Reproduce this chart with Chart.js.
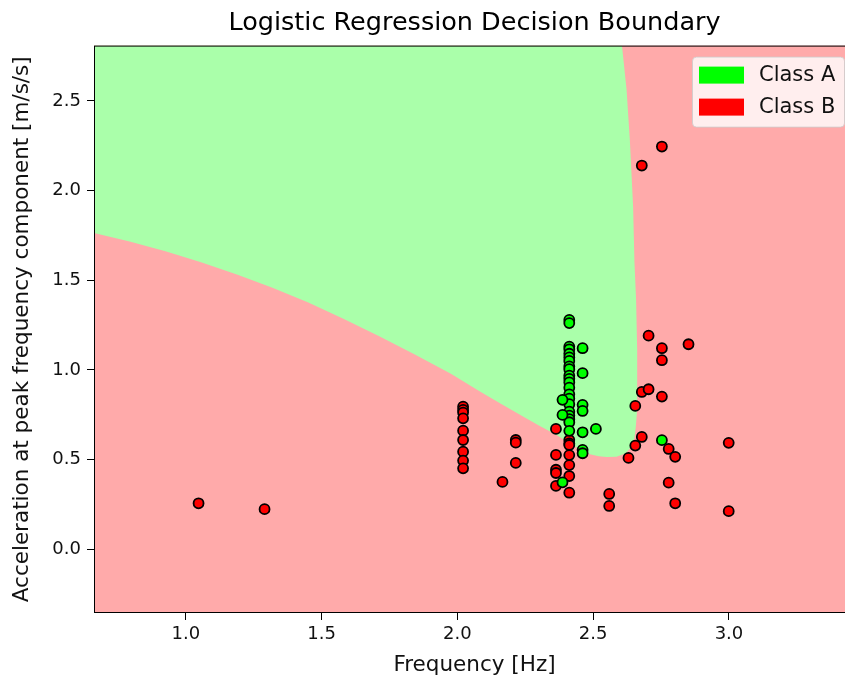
<!DOCTYPE html>
<html>
<head>
<meta charset="utf-8">
<title>Logistic Regression Decision Boundary</title>
<script src="https://cdn.jsdelivr.net/npm/chart.js@4.4.0/dist/chart.umd.min.js"></script>
<style>
  html, body { margin: 0; padding: 0; background: #fff; }
  #frame { width: 845px; height: 681px; overflow: hidden; }
  #chart { display: block; }
</style>
</head>
<body>
<div id="frame"><canvas id="chart" width="855" height="681"></canvas></div>
<script>
// axis limits and ticks
const xMin = 0.662, xMax = 3.464;
const yMin = -0.356, yMax = 2.809;
const xTicks = [1.0, 1.5, 2.0, 2.5, 3.0];
const yTicks = [0.0, 0.5, 1.0, 1.5, 2.0, 2.5];

// Class A samples (frequency, acceleration)
const classAFreq = [
  2.412, 2.412, 2.412, 2.412, 2.412, 2.412, 2.412, 2.412, 2.412, 2.412, 2.412,
  2.412, 2.412, 2.412, 2.412, 2.412, 2.412, 2.412, 2.412, 2.412, 2.412,
  2.461, 2.461, 2.461, 2.461, 2.461, 2.461, 2.461,
  2.510,
  2.387, 2.387, 2.387,
  2.753
];
const classAAccel = [
  1.279, 1.261, 1.130, 1.115, 1.090, 1.070, 1.050, 1.020, 1.004, 0.968, 0.950,
  0.931, 0.901, 0.864, 0.840, 0.809, 0.767, 0.745, 0.725, 0.708, 0.660,
  1.121, 0.982, 0.805, 0.771, 0.652, 0.554, 0.535,
  0.671,
  0.833, 0.749, 0.373,
  0.608
];

// Class B samples (frequency, acceleration)
const classBFreq = [
  1.047, 1.290,
  2.021, 2.021, 2.021, 2.021, 2.021, 2.021, 2.021, 2.021, 2.021,
  2.166,
  2.215, 2.215, 2.215,
  2.363, 2.363, 2.363, 2.363, 2.363,
  2.412, 2.412, 2.412, 2.412, 2.412, 2.412, 2.412,
  2.559, 2.559,
  2.630,
  2.655, 2.655,
  2.679, 2.679, 2.679,
  2.704, 2.704,
  2.753, 2.753, 2.753, 2.753,
  2.778, 2.778,
  2.802, 2.802,
  2.851,
  2.999, 2.999
];
const classBAccel = [
  0.256, 0.223,
  0.795, 0.777, 0.762, 0.730, 0.661, 0.609, 0.544, 0.494, 0.451,
  0.375,
  0.609, 0.594, 0.481,
  0.671, 0.526, 0.443, 0.425, 0.353,
  0.609, 0.590, 0.581, 0.525, 0.469, 0.408, 0.315,
  0.308, 0.241,
  0.509,
  0.799, 0.578,
  2.140, 0.877, 0.626,
  1.191, 0.892,
  2.246, 1.121, 1.054, 0.851,
  0.559, 0.371,
  0.515, 0.256,
  1.143,
  0.593, 0.212
];

// outline of the region predicted as Class A
const boundaryFreq = [
  xMin, 0.662, 0.793, 0.925, 1.056, 1.188, 1.319, 1.451, 1.582, 1.714, 1.845,
  1.976, 2.083, 2.160, 2.240, 2.300, 2.365, 2.410, 2.451, 2.488, 2.520, 2.549,
  2.586, 2.620, 2.641, 2.652, 2.657, 2.661, 2.662, 2.662, 2.658, 2.652, 2.647,
  2.635, 2.623, 2.606
];
const boundaryAccel = [
  yMax, 1.764, 1.716, 1.662, 1.600, 1.532, 1.458, 1.376, 1.284, 1.186, 1.084,
  0.978, 0.880, 0.811, 0.742, 0.690, 0.637, 0.594, 0.556, 0.530, 0.518, 0.514,
  0.516, 0.535, 0.572, 0.620, 0.684, 0.760, 0.833, 1.112, 1.391, 1.600, 1.911,
  2.283, 2.563, yMax
];

const toPoints = (xs, ys) => xs.map((x, i) => ({ x, y: ys[i] }));

const TEXT = '#111';
const FONT = '"DejaVu Sans", sans-serif';

// Class B background for the plot area
const regionBackground = {
  id: 'regionBackground',
  beforeDatasetsDraw(chart) {
    const { ctx, chartArea: a } = chart;
    ctx.save();
    ctx.fillStyle = '#ffaaaa';
    ctx.fillRect(a.left, a.top, a.right - a.left, a.bottom - a.top);
    ctx.restore();
  }
};

// box around the plot
const axesFrame = {
  id: 'axesFrame',
  afterDatasetsDraw(chart) {
    const { ctx, chartArea: a } = chart;
    ctx.save();
    ctx.strokeStyle = '#000';
    ctx.lineWidth = 1;
    ctx.strokeRect(a.left + 0.5, a.top + 0.5, a.right - a.left - 1, a.bottom - a.top - 1);
    ctx.restore();
  }
};

// legend in the upper right corner of the plot
const insetLegend = {
  id: 'insetLegend',
  afterDraw(chart) {
    const { ctx, chartArea: a } = chart;
    const items = chart.data.datasets.filter(d => d.pointRadius > 0);
    const w = 152, h = 70;
    const left = a.right - 11 - w, top = a.top + 11;
    ctx.save();
    ctx.beginPath();
    ctx.roundRect(left + 0.5, top + 0.5, w, h, 4);
    ctx.fillStyle = 'rgba(255,255,255,0.8)';
    ctx.fill();
    ctx.strokeStyle = 'rgba(204,204,204,0.8)';
    ctx.lineWidth = 1;
    ctx.stroke();
    ctx.font = '21px ' + FONT;
    ctx.textBaseline = 'middle';
    items.forEach((d, i) => {
      const cy = top + 18.5 + i * 32;
      ctx.fillStyle = d.pointBackgroundColor;
      ctx.fillRect(left + 7, cy - 8.5, 45, 17);
      ctx.fillStyle = TEXT;
      ctx.fillText(d.label, left + 67, cy);
    });
    ctx.restore();
  }
};

Chart.defaults.font.family = FONT;

new Chart(document.getElementById('chart'), {
  type: 'scatter',
  data: {
    datasets: [
      {
        label: 'Class A',
        data: toPoints(classAFreq, classAAccel),
        pointRadius: 5,
        pointBackgroundColor: '#00ff00',
        pointBorderColor: '#000',
        pointBorderWidth: 1.8,
        order: 1
      },
      {
        label: 'Class B',
        data: toPoints(classBFreq, classBAccel),
        pointRadius: 5,
        pointBackgroundColor: '#ff0000',
        pointBorderColor: '#000',
        pointBorderWidth: 1.8,
        order: 2
      },
      {
        label: 'Class A region',
        data: toPoints(boundaryFreq, boundaryAccel),
        showLine: true,
        fill: 'shape',
        backgroundColor: '#aaffaa',
        borderColor: 'rgba(0,0,0,0)',
        borderWidth: 0,
        pointRadius: 0,
        order: 3
      }
    ]
  },
  options: {
    responsive: false,
    devicePixelRatio: 1,
    animation: false,
    events: [],
    layout: { autoPadding: false, padding: 0 },
    scales: {
      x: {
        type: 'linear',
        min: xMin,
        max: xMax,
        afterBuildTicks: s => { s.ticks = xTicks.map(v => ({ value: v })); },
        afterFit: s => { s.height = 68; },
        ticks: { callback: v => v.toFixed(1), color: TEXT, font: { size: 18 }, padding: 4, maxRotation: 0, autoSkip: false },
        grid: { display: true, drawOnChartArea: false, drawTicks: true, tickLength: 7, color: '#000', lineWidth: 1 },
        border: { display: false },
        title: { display: true, text: 'Frequency [Hz]', color: TEXT, font: { size: 21.5 }, padding: { top: 0, bottom: 3 } }
      },
      y: {
        type: 'linear',
        min: yMin,
        max: yMax,
        afterBuildTicks: s => { s.ticks = yTicks.map(v => ({ value: v })); },
        afterFit: s => { s.width = 94; },
        ticks: { callback: v => v.toFixed(1), color: TEXT, font: { size: 18 }, padding: 6, autoSkip: false },
        grid: { display: true, drawOnChartArea: false, drawTicks: true, tickLength: 7, color: '#000', lineWidth: 1 },
        border: { display: false },
        title: { display: true, text: 'Acceleration at peak frequency component [m/s/s]', color: TEXT, font: { size: 21.5 }, padding: { top: 10, bottom: 0 } }
      }
    },
    plugins: {
      legend: { display: false },
      tooltip: { enabled: false },
      title: {
        display: true,
        text: 'Logistic Regression Decision Boundary',
        fullSize: false,
        color: '#000',
        font: { size: 25.5, weight: 'normal' },
        padding: { top: 8, bottom: 7 }
      }
    }
  },
  plugins: [regionBackground, axesFrame, insetLegend]
});
</script>
</body>
</html>
